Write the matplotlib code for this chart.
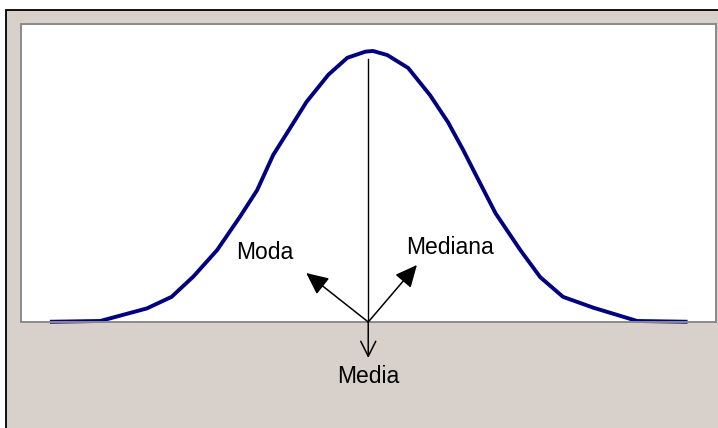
import matplotlib.pyplot as plt
from matplotlib.patches import Rectangle

plt.rcParams['font.family'] = ['Liberation Sans', 'DejaVu Sans']

# curve points (z, density)
z = [-3.34, -2.83, -2.34, -2.08, -1.85, -1.60, -1.36, -1.18, -1.01, -0.83,
     -0.66, -0.43, -0.23, -0.04, 0.04, 0.19, 0.41, 0.64, 0.83, 0.99,
     1.15, 1.33, 1.59, 1.80, 2.04, 2.36, 2.82, 3.33]
dens = [0.0004, 0.0015, 0.020, 0.037, 0.067, 0.106, 0.155, 0.194, 0.246, 0.286,
        0.324, 0.364, 0.389, 0.398, 0.399, 0.393, 0.374, 0.334, 0.294, 0.253,
        0.209, 0.160, 0.106, 0.066, 0.037, 0.021, 0.0015, 0.0004]

centro = -0.01
tope = 0.387
etiquetas = ["Moda", "Mediana", "Media"]
puntas = [(-0.663, 0.0721), (0.502, 0.0839), (-0.01, -0.053)]
pos_texto = [(-1.095, 0.1016), (0.853, 0.110), (-0.01, -0.0795)]

W, H = 718, 428
fig = plt.figure(figsize=(W / 100, H / 100), dpi=100)
fig.patch.set_facecolor('white')
fondo = Rectangle((6 / W, -0.5), 2, 1.5 - 10 / H, transform=fig.transFigure,
                  facecolor='#D8D0CA', edgecolor='black', lw=1.3, zorder=-10)
fig.add_artist(fondo)

ax = fig.add_axes([20.5 / W, (H - 322) / H, (716 - 20.5) / W, (322 - 24) / H])
ax.set_zorder(5)
ax.set_facecolor('white')
ax.set_xlim(-3.67, 3.65)
ax.set_ylim(0, 0.4387)
ax.set_xticks([])
ax.set_yticks([])
for s in ax.spines.values():
    s.set_color('#8a8a8a')
    s.set_linewidth(1.4)

ax.plot(z, dens, color='#000080', lw=2.8, solid_joinstyle='round', clip_on=False)
ax.plot([centro, centro], [0, tope], color='black', lw=1.0)

for i, lab in enumerate(etiquetas):
    estilo = '-|>,head_length=0.75,head_width=0.35' if i < 2 else '->,head_length=0.6,head_width=0.3'
    ax.annotate('', xy=puntas[i], xytext=(centro, 0),
                arrowprops=dict(arrowstyle=estilo, color='black', lw=1.1,
                                mutation_scale=18, shrinkA=0, shrinkB=0),
                annotation_clip=False)
    ax.text(pos_texto[i][0], pos_texto[i][1], lab, fontsize=16.5, ha='center',
            va='center', color='black', clip_on=False)

fig.savefig('out.png', dpi=100)
